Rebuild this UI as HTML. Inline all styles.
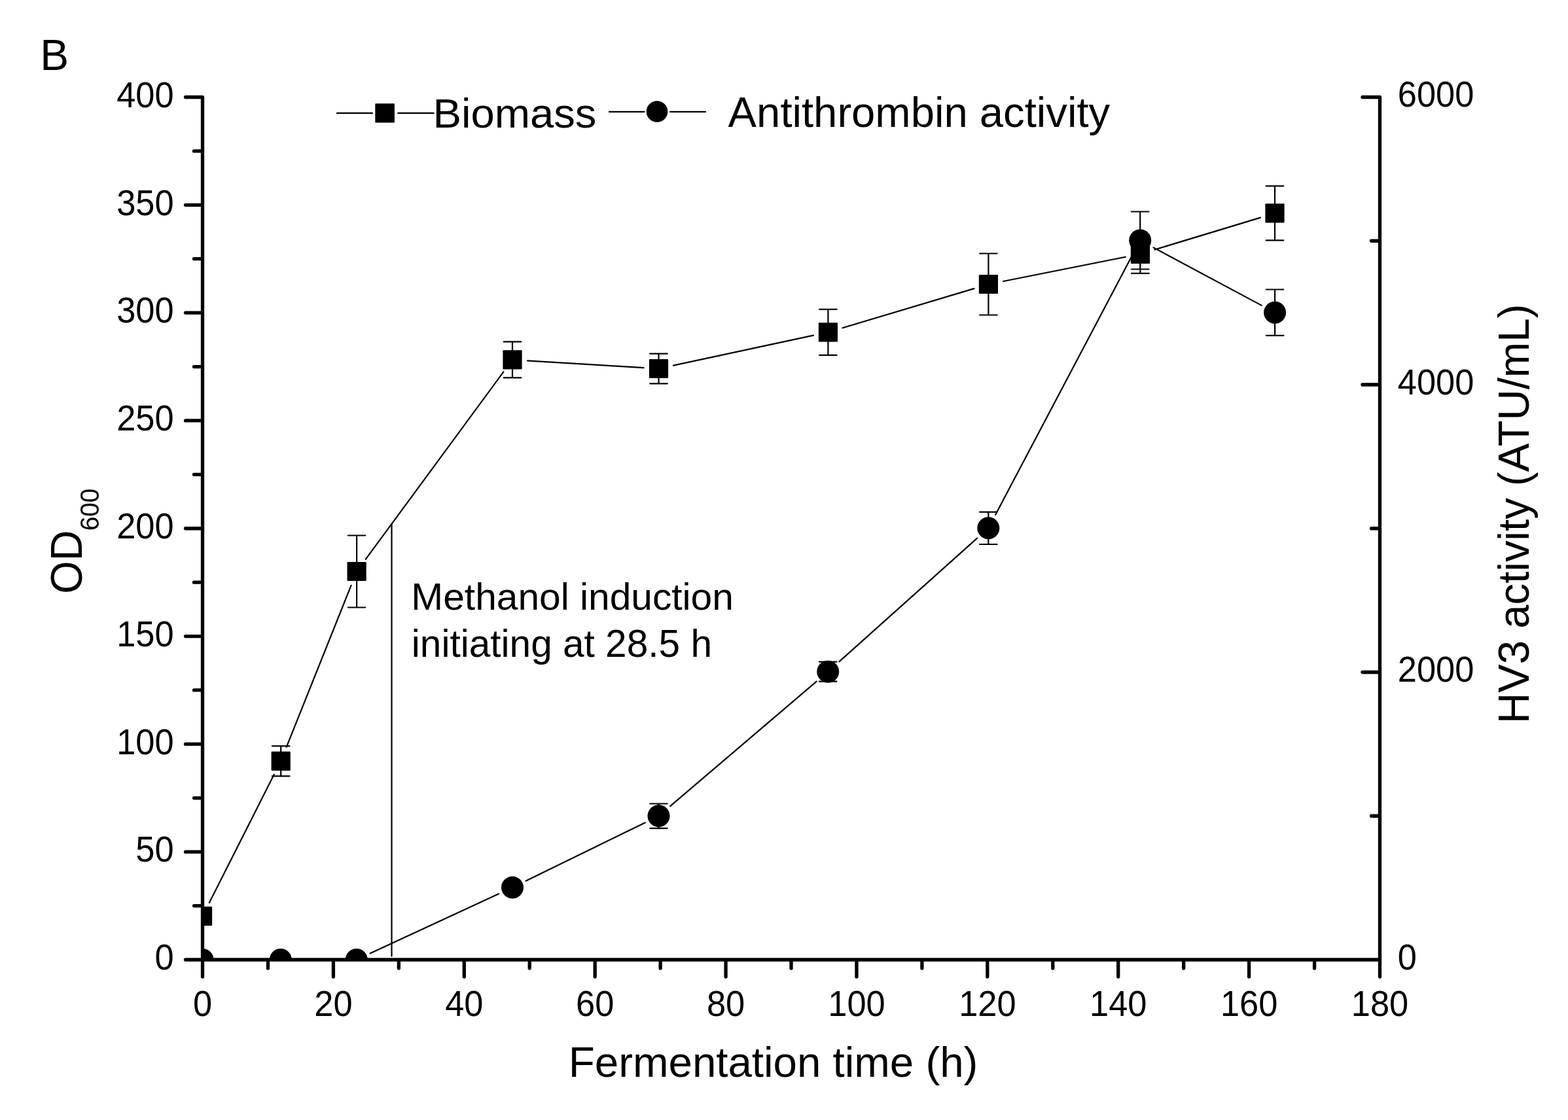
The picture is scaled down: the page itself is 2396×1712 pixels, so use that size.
<!DOCTYPE html>
<html><head><meta charset="utf-8"><title>Fermentation time course</title>
<style>html,body{margin:0;padding:0;background:#fff;width:2396px;height:1712px;overflow:hidden}svg{display:block}text{font-family:"Liberation Sans",Arial,sans-serif;fill:#000}</style>
</head><body>
<svg width="2396" height="1712" viewBox="0 0 2396 1712">
<rect width="2396" height="1712" fill="#fff"/>
<defs><clipPath id="pc"><rect x="309.5" y="88.5" width="1799" height="1378.5"/></clipPath></defs>
<g clip-path="url(#pc)">
<path d="M598.5 801V1461.5" stroke="#000" stroke-width="2.2" stroke-linecap="round" fill="none"/>
<path d="M319.87 1379.87L418.83 1183.83M437.74 1141.94L536.56 894.86M558.72 854.97L769.38 568.43M805.96 551.3L983.54 562.1M1028.99 558.66L1242.91 512.64M1287.43 501.21L1488.37 441.09M1532.96 430.01L1719.84 392.79M1764.41 381.62L1925.99 332.58M332.5 1467L405.8 1467M451.8 1467L521.8 1467M565.67 1457.33L762.13 1366.27M803.66 1346.5L985.84 1257.4M1024 1232.38L1247.7 1041.62M1282.34 1011.36L1493.16 822.64M1521.03 786.96L1731.47 387.84M1762.48 378.35L1927.82 466.85" stroke="#000" stroke-width="2.2" stroke-linecap="round" fill="none"/>
<path d="M429.2 1140.3V1186.3M415.9 1140.3H442.5M415.9 1186.3H442.5M545.1 818.5V928.5M531.8 818.5H558.4M531.8 928.5H558.4M783 522.4V577.4M769.7 522.4H796.3M769.7 577.4H796.3M1006.5 540.7V586.3M993.2 540.7H1019.8M993.2 586.3H1019.8M1265.4 472.8V542.8M1252.1 472.8H1278.7M1252.1 542.8H1278.7M1510.4 387.5V481.5M1497.1 387.5H1523.7M1497.1 481.5H1523.7M1742.4 358.7V417.9M1729.1 358.7H1755.7M1729.1 417.9H1755.7M1948 284.4V367.4M1934.7 284.4H1961.3M1934.7 367.4H1961.3M1006.5 1228.5V1266.1M993.2 1228.5H1019.8M993.2 1266.1H1019.8M1265.2 1011.7V1041.7M1251.9 1011.7H1278.5M1251.9 1041.7H1278.5M1510.3 782.6V832M1497 782.6H1523.6M1497 832H1523.6M1742.2 323.5V411.5M1728.9 323.5H1755.5M1728.9 411.5H1755.5M1948.1 442.5V512.9M1934.8 442.5H1961.4M1934.8 512.9H1961.4" stroke="#000" stroke-width="2.2" stroke-linecap="round" fill="none"/>
<circle cx="309.5" cy="1467" r="17"/>
<circle cx="428.8" cy="1467" r="17"/>
<circle cx="544.8" cy="1467" r="17"/>
<circle cx="783" cy="1356.6" r="17"/>
<circle cx="1006.5" cy="1247.3" r="17"/>
<circle cx="1265.2" cy="1026.7" r="17"/>
<circle cx="1510.3" cy="807.3" r="17"/>
<circle cx="1742.2" cy="367.5" r="17"/>
<circle cx="1948.1" cy="477.7" r="17"/>
<rect x="294.9" y="1385.8" width="29.2" height="29.2" rx="1"/>
<rect x="414.6" y="1148.7" width="29.2" height="29.2" rx="1"/>
<rect x="530.5" y="858.9" width="29.2" height="29.2" rx="1"/>
<rect x="768.4" y="535.3" width="29.2" height="29.2" rx="1"/>
<rect x="991.9" y="548.9" width="29.2" height="29.2" rx="1"/>
<rect x="1250.8" y="493.2" width="29.2" height="29.2" rx="1"/>
<rect x="1495.8" y="419.9" width="29.2" height="29.2" rx="1"/>
<rect x="1727.8" y="373.7" width="29.2" height="29.2" rx="1"/>
<rect x="1933.4" y="311.3" width="29.2" height="29.2" rx="1"/>
</g>
<path d="M309.5 148.5V1493M283.5 1467H2108.5M2108.5 148.5V1493M283.5 1467H309.5M296.5 1384.59H309.5M283.5 1302.19H309.5M296.5 1219.78H309.5M283.5 1137.38H309.5M296.5 1054.97H309.5M283.5 972.56H309.5M296.5 890.16H309.5M283.5 807.75H309.5M296.5 725.34H309.5M283.5 642.94H309.5M296.5 560.53H309.5M283.5 478.12H309.5M296.5 395.72H309.5M283.5 313.31H309.5M296.5 230.91H309.5M283.5 148.5H309.5M309.5 1467V1493M409.44 1467V1480M509.39 1467V1493M609.33 1467V1480M709.28 1467V1493M809.22 1467V1480M909.17 1467V1493M1009.11 1467V1480M1109.06 1467V1493M1209 1467V1480M1308.94 1467V1493M1408.89 1467V1480M1508.83 1467V1493M1608.78 1467V1480M1708.72 1467V1493M1808.67 1467V1480M1908.61 1467V1493M2008.56 1467V1480M2108.5 1467V1493M2082 1467H2108.5M2095.5 1247.25H2108.5M2082 1027.5H2108.5M2095.5 807.75H2108.5M2082 588H2108.5M2095.5 368.25H2108.5M2082 148.5H2108.5" stroke="#000" stroke-width="5.3" stroke-linecap="round" stroke-linejoin="round" fill="none"/>
<g font-size="54">
<text transform="translate(265.6 1482.3) scale(0.97 1.02)" text-anchor="end">0</text>
<text transform="translate(265.6 1317.49) scale(0.97 1.02)" text-anchor="end">50</text>
<text transform="translate(265.6 1152.67) scale(0.97 1.02)" text-anchor="end">100</text>
<text transform="translate(265.6 987.86) scale(0.97 1.02)" text-anchor="end">150</text>
<text transform="translate(265.6 823.05) scale(0.97 1.02)" text-anchor="end">200</text>
<text transform="translate(265.6 658.24) scale(0.97 1.02)" text-anchor="end">250</text>
<text transform="translate(265.6 493.43) scale(0.97 1.02)" text-anchor="end">300</text>
<text transform="translate(265.6 328.61) scale(0.97 1.02)" text-anchor="end">350</text>
<text transform="translate(265.6 163.8) scale(0.97 1.02)" text-anchor="end">400</text>
<text transform="translate(309.5 1553.2) scale(0.97 1.02)" text-anchor="middle">0</text>
<text transform="translate(509.39 1553.2) scale(0.97 1.02)" text-anchor="middle">20</text>
<text transform="translate(709.28 1553.2) scale(0.97 1.02)" text-anchor="middle">40</text>
<text transform="translate(909.17 1553.2) scale(0.97 1.02)" text-anchor="middle">60</text>
<text transform="translate(1109.06 1553.2) scale(0.97 1.02)" text-anchor="middle">80</text>
<text transform="translate(1308.94 1553.2) scale(0.97 1.02)" text-anchor="middle">100</text>
<text transform="translate(1508.83 1553.2) scale(0.97 1.02)" text-anchor="middle">120</text>
<text transform="translate(1708.72 1553.2) scale(0.97 1.02)" text-anchor="middle">140</text>
<text transform="translate(1908.61 1553.2) scale(0.97 1.02)" text-anchor="middle">160</text>
<text transform="translate(2108.5 1553.2) scale(0.97 1.02)" text-anchor="middle">180</text>
<text transform="translate(2135.8 1481.7) scale(0.97 1.02)" text-anchor="start">0</text>
<text transform="translate(2135.8 1042.2) scale(0.97 1.02)" text-anchor="start">2000</text>
<text transform="translate(2135.8 602.7) scale(0.97 1.02)" text-anchor="start">4000</text>
<text transform="translate(2135.8 163.2) scale(0.97 1.02)" text-anchor="start">6000</text>
</g>
<text transform="translate(61.33 106.94) scale(1.0286 1.0555)" font-size="64">B</text>
<text transform="translate(868.82 1646.2) scale(1.0228 1.0275)" font-size="64">Fermentation time (h)</text>
<text transform="translate(125.28 907.69) rotate(-90) scale(1.0135 1.0764)" font-size="64">OD</text>
<text transform="translate(151.24 811.32) rotate(-90) scale(0.9712 1.0341)" font-size="40">600</text>
<text transform="translate(2335.52 1105.96) rotate(-90) scale(1.0209 1.0364)" font-size="64">HV3 activity (ATU/mL)</text>
<path d="M515 172.9H569M608.3 172.9H662.6M931 170.9H984.5M1024 170.9H1078" stroke="#000" stroke-width="2.3" stroke-linecap="round" fill="none"/>
<rect x="573.3" y="158.2" width="29.6" height="29.3" rx="1"/>
<circle cx="1004" cy="170.5" r="16.3"/>
<text transform="translate(661.44 194.67) scale(1.0186 0.9972)" font-size="64">Biomass</text>
<text transform="translate(1112.62 193.77) scale(1.0191 1.0065)" font-size="64">Antithrombin activity</text>
<text transform="translate(628.32 931.88) scale(0.9781 0.9707)" font-size="60">Methanol induction</text>
<text transform="translate(628.84 1003.72) scale(0.9763 0.9896)" font-size="60">initiating at 28.5 h</text>
</svg></body></html>
